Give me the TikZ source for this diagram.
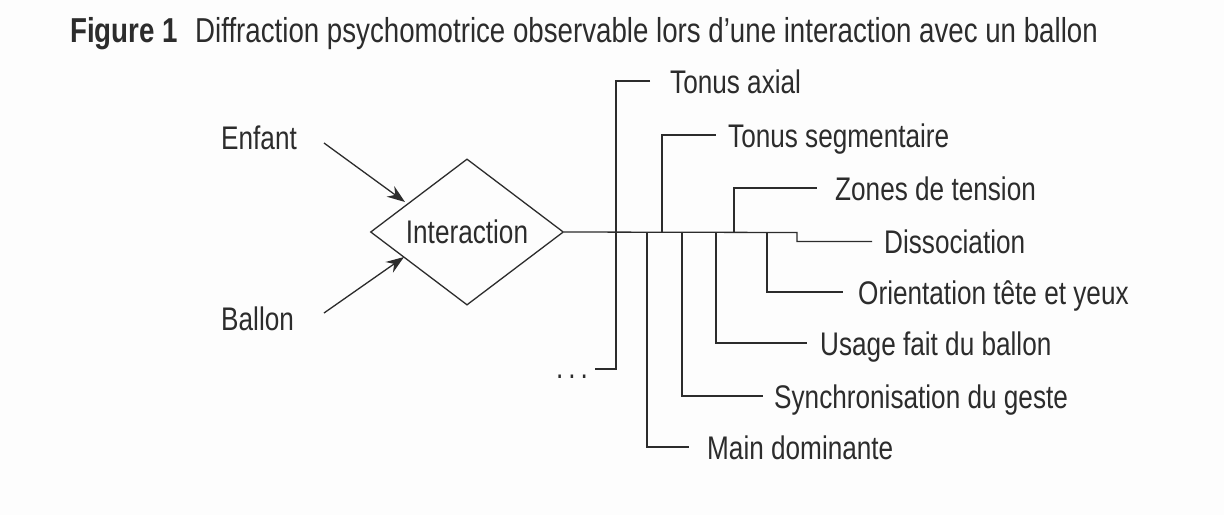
\documentclass[tikz,border=0pt]{standalone}
\usepackage{fontspec}
\setmainfont{Liberation Sans}[FakeStretch=0.8]
\usetikzlibrary{shapes.geometric,arrows.meta}
\definecolor{ink}{HTML}{2C2C2C}
\definecolor{paper}{HTML}{FDFDFD}
\begin{document}
\begin{tikzpicture}[x=1pt,y=-1pt,
  wire/.style={draw=ink,line width=1.3pt},
  lbl/.style={anchor=base west,inner sep=0pt,text=ink,font=\fontsize{32.7}{38}\selectfont},
  ttl/.style={anchor=base west,inner sep=0pt,text=ink,font=\fontsize{34.6}{40}\selectfont},
  arr/.style={wire,-{Stealth[length=18pt,width=13pt,inset=6pt]}},
  dia/.style={diamond,draw=ink,line width=1.3pt,minimum width=193pt,minimum height=130pt,inner sep=0pt,text=ink,font=\fontsize{32.7}{38}\selectfont}
]
\fill[paper] (0,0) rectangle (1224,515);
\useasboundingbox (0,0) rectangle (1224,515);
% title
\node[ttl,font=\fontsize{34.6}{40}\selectfont\bfseries] (fig) at (70,42) {Figure 1};
\node[ttl] (title) at (195,42) {Diffraction psychomotrice observable lors d’une interaction avec un ballon};
% inputs
\node[lbl] (enf) at (221,149) {Enfant};
\node[lbl] (bal) at (221,330) {Ballon};
\node[dia] (inter) at (467,232) {Interaction};
\coordinate (enfS) at (324,143);
\coordinate (enfT) at (405,202);
\coordinate (balS) at (324,313);
\coordinate (balT) at (404,257);
\draw[arr] (enfS) -- (enfT);
\draw[arr] (balS) -- (balT);
% labels
\node[lbl] (tax) at (670,93) {Tonus axial};
\node[lbl] (tseg) at (728,147) {Tonus segmentaire};
\node[lbl] (zon) at (835,200) {Zones de tension};
\node[lbl] (dis) at (884,253) {Dissociation};
\node[lbl] (ori) at (858,304) {Orientation tête et yeux};
\node[lbl] (usa) at (820,355) {Usage fait du ballon};
\node[lbl] (syn) at (774,408) {Synchronisation du geste};
\node[lbl] (mai) at (707,459) {Main dominante};
\node[lbl] (dots) at (556,378) {.\hspace{5pt}.\hspace{5pt}.};
% spine
\coordinate (stepA) at (797,232.5);
\coordinate (disE) at (872,241.5);
\draw[wire] (inter.east) -- (stepA) |- (disE);
% branch ends
\coordinate (taxE) at (650,81);
\coordinate (tsegE) at (716,135);
\coordinate (zonE) at (817,188);
\coordinate (oriE) at (843,292);
\coordinate (usaE) at (807,343);
\coordinate (synE) at (763,396);
\coordinate (maiE) at (689,447);
\coordinate (dotsE) at (595,369);
% branches
\draw[wire] (taxE) -- (616,81) -- (616,369) -- (dotsE);
\draw[wire] (662,232.5) |- (tsegE);
\draw[wire] (734,232.5) |- (zonE);
\draw[wire] (647,232.5) |- (maiE);
\draw[wire] (682,232.5) |- (synE);
\draw[wire] (716,232.5) |- (usaE);
\draw[wire] (767,232.5) |- (oriE);
\end{tikzpicture}
\end{document}
